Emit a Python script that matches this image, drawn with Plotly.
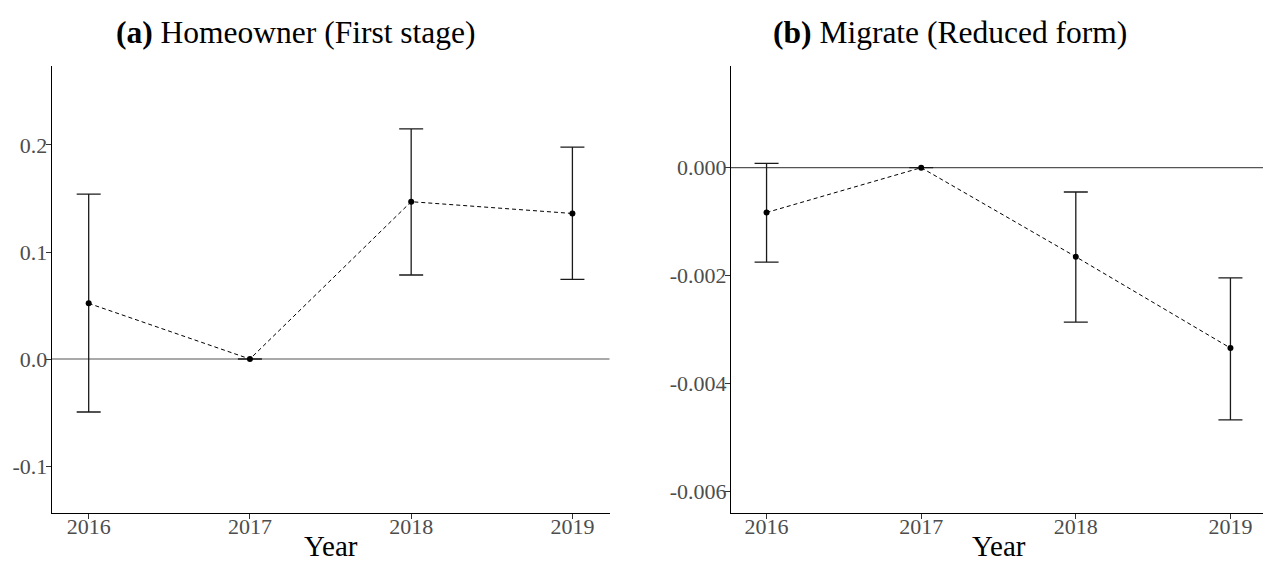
import plotly.graph_objects as go

years = [2016, 2017, 2018, 2019]

home_est = [0.052, 0.0, 0.147, 0.136]
home_lo = [-0.0495, 0.0, 0.0785, 0.0745]
home_hi = [0.154, 0.0, 0.215, 0.198]

mig_est = [-0.00083, 0.0, -0.00165, -0.00334]
mig_lo = [-0.00175, 0.0, -0.00286, -0.00467]
mig_hi = [0.00008, 0.0, -0.00045, -0.00204]

home_ticks = [-0.1, 0.0, 0.1, 0.2]
home_ticktext = ["-0.1", "0.0", "0.1", "0.2"]
mig_ticks = [-0.006, -0.004, -0.002, 0.0]
mig_ticktext = ["-0.006", "-0.004", "-0.002", "0.000"]

title_a = "<b>(a)</b> Homeowner (First stage)"
title_b = "<b>(b)</b> Migrate (Reduced form)"
xlabel = "Year"

# page body has an 8px margin; figure is drawn from (8, 8)
OFF = 8
W, H = 1271 - OFF, 564 - OFF
FONT = "Liberation Serif"


def px_x(v):
    return (v - OFF) / W


def px_y(v):
    return 1 - (v - OFF) / H


fig = go.Figure()


def add_panel(est, lo, hi, xa, ya):
    plus = [h - e for h, e in zip(hi, est)]
    minus = [e - l for e, l in zip(est, lo)]
    fig.add_trace(go.Scatter(
        x=years, y=est, mode="lines+markers", xaxis=xa, yaxis=ya,
        line=dict(color="black", width=1, dash="4px,3px"),
        marker=dict(color="black", size=6),
        error_y=dict(type="data", symmetric=False, array=plus, arrayminus=minus,
                     color="#1a1a1a", thickness=1.3, width=12),
        showlegend=False, hoverinfo="skip",
    ))


add_panel(home_est, home_lo, home_hi, "x", "y")
add_panel(mig_est, mig_lo, mig_hi, "x2", "y2")

ydom = [px_y(512.7), px_y(66)]
xdom1 = [px_x(51.6), px_x(609.5)]
xdom2 = [px_x(731.0), px_x(1266.0)]

axis_common = dict(
    showgrid=False, zeroline=False, showline=True, linecolor="black", linewidth=1,
    ticks="outside", ticklen=5, tickcolor="#333333", tickwidth=1,
    tickfont=dict(family=FONT, size=22, color="#4D4D4D"),
)
xaxis_extra = dict(ticklabelstandoff=-11)
yaxis_extra = dict(ticklabelstandoff=-6)

fig.update_layout(
    width=W, height=H,
    margin=dict(l=0, r=0, t=0, b=0),
    plot_bgcolor="white", paper_bgcolor="white",
    xaxis=dict(domain=xdom1, range=[2015.77, 2019.23], tickvals=years, anchor="y",
               **axis_common, **xaxis_extra),
    yaxis=dict(domain=ydom, range=[-0.1436, 0.2738], tickvals=home_ticks, ticktext=home_ticktext,
               anchor="x", **axis_common, **yaxis_extra),
    xaxis2=dict(domain=xdom2, range=[2015.77, 2019.23], tickvals=years, anchor="y2",
                **axis_common, **xaxis_extra),
    yaxis2=dict(domain=ydom, range=[-0.006389, 0.001883], tickvals=mig_ticks, ticktext=mig_ticktext,
                anchor="x2", **axis_common, **yaxis_extra),
)

fig.add_shape(type="line", xref="x domain", yref="y", x0=0, x1=1, y0=0, y1=0,
              line=dict(color="#555555", width=1.2), layer="below")
fig.add_shape(type="line", xref="x2 domain", yref="y2", x0=0, x1=1, y0=0, y1=0,
              line=dict(color="#555555", width=1.2), layer="below")

fig.add_annotation(text=title_a, x=px_x(296), y=px_y(33), xref="paper", yref="paper",
                   showarrow=False, xanchor="center", yanchor="middle",
                   font=dict(family=FONT, size=31.5, color="black"))
fig.add_annotation(text=title_b, x=px_x(950), y=px_y(33), xref="paper", yref="paper",
                   showarrow=False, xanchor="center", yanchor="middle",
                   font=dict(family=FONT, size=31.5, color="black"))
for dom in (xdom1, xdom2):
    fig.add_annotation(text=xlabel, x=(dom[0] + dom[1]) / 2, y=0, xref="paper", yref="paper",
                       showarrow=False, xanchor="center", yanchor="bottom",
                       font=dict(family=FONT, size=29, color="black"))

fig.write_html("out.html")
